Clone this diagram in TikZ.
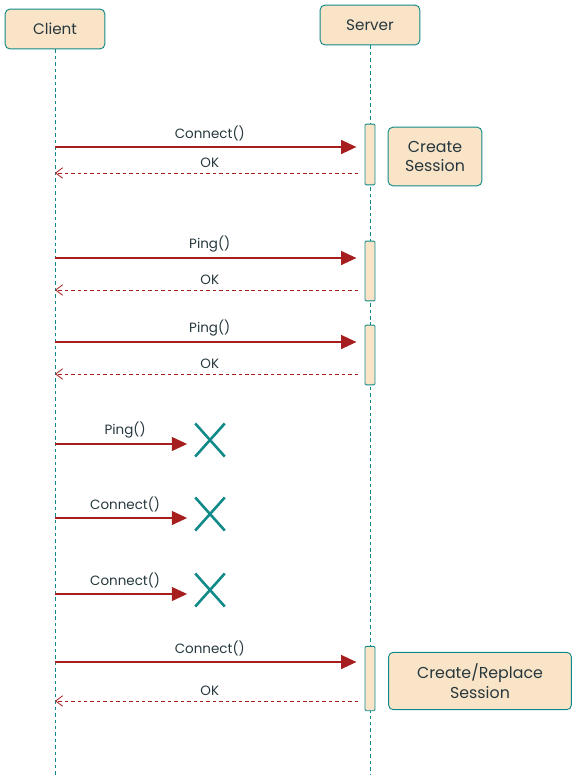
\documentclass[tikz,border=0pt]{standalone}
\usepackage{fontspec}
\setmainfont{Poppins}
\usetikzlibrary{arrows.meta,positioning,calc,shapes.misc}
\definecolor{lifeteal}{RGB}{16,138,136}
\definecolor{boxpeach}{RGB}{250,228,199}
\definecolor{msgred}{RGB}{166,30,30}
\definecolor{inkgray}{RGB}{38,56,62}

\begin{document}
\begin{tikzpicture}[x=0.03cm,y=-0.03cm,
  actor/.style={draw=lifeteal,fill=boxpeach,rounded corners=4pt,line width=0.8pt,
    minimum width=85pt,minimum height=34pt,text=inkgray,font=\fontsize{13}{15}\selectfont},
  act/.style={draw=lifeteal,fill=boxpeach,rounded corners=1pt,line width=0.8pt,minimum width=8.5pt},
  note/.style={actor,align=center,font=\fontsize{13.5}{17}\selectfont},
  life/.style={lifeteal,line width=0.7pt,dash pattern=on 3pt off 2.5pt},
  msg/.style={msgred,line width=0.9pt,-{Triangle[length=13pt,width=12pt]},shorten >=7pt},
  reply/.style={msgred,line width=0.7pt,dash pattern=on 3pt off 2.5pt,
    -{Straight Barb[length=6pt,width=9pt]},shorten <=5.5pt},
  lab/.style={above=1pt,text=inkgray,font=\fontsize{11.5}{13}\selectfont},
  lost/.style={cross out,draw=lifeteal,line width=2.2pt,minimum width=23pt,minimum height=26pt,inner sep=0pt}]
  \useasboundingbox (0,0) rectangle (579,782);
  \node[actor] (client) at (55,29) {Client};
  \node[actor] (server) at (370,25) {Server};
  \coordinate (cend) at (55,775);
  \coordinate (send) at (370,775);
  \draw[life] (client.south) -- (cend);
  \draw[life] (server.south) -- (send);
  % activations on the server
  \node[act,minimum height=52pt] (a1) at (370,154.5) {};
  \node[act,minimum height=51pt] (a2) at (370,271) {};
  \node[act,minimum height=51pt] (a3) at (370,355) {};
  \node[act,minimum height=55pt] (a4) at (370,678.5) {};
  \node[note,minimum width=80pt,minimum height=50pt] (create) at (435,156.5) {Create\\Session};
  \node[note,minimum width=156pt,minimum height=49pt] (replace) at (480,681) {Create/Replace\\Session};
  % calls that get an answer
  \foreach \n/\call/\ya/\yb in {1/Connect()/147/173, 2/Ping()/258/290, 3/Ping()/342/374, 4/Connect()/662/701} {
    \coordinate (c\n) at (55,\ya);
    \coordinate (r\n) at (55,\yb);
    \draw[msg] (c\n) -- (c\n -| a\n.west) node[midway,lab] {\call};
    \draw[reply] (r\n -| a\n.west) -- (r\n) node[midway,lab] {OK};
  }
  % calls that get lost
  \foreach \n/\call/\y in {1/Ping()/444, 2/Connect()/518, 3/Connect()/594} {
    \coordinate (p\n) at (55,\y);
    \node[lost] (x\n) at (210,\y-4) {};
    \draw[msg] (p\n) -- (p\n -| x\n.west) node[midway,lab] {\call};
  }
\end{tikzpicture}
\end{document}
